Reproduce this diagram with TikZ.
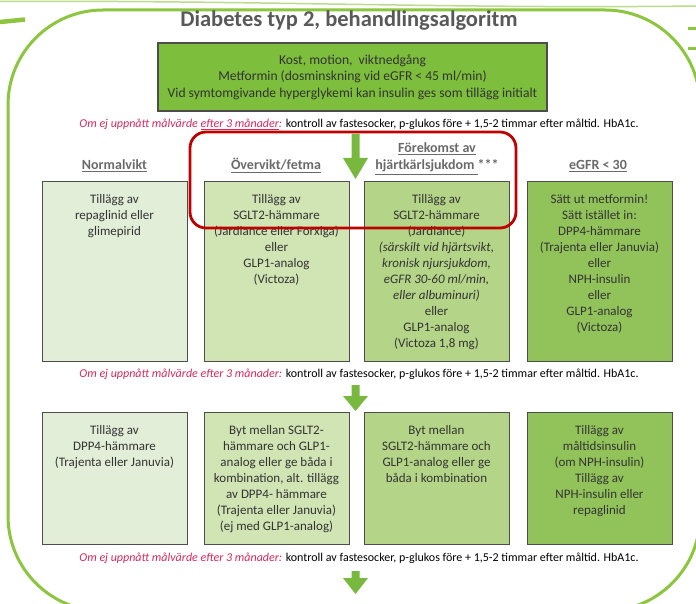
\documentclass[tikz,border=0pt]{standalone}
\usepackage{fontspec}
\setmainfont{Carlito}
\definecolor{frameg}{HTML}{8CC63F}
\definecolor{topg}{HTML}{7DBE3C}
\definecolor{cA}{HTML}{E2EED8}
\definecolor{cB}{HTML}{D1E4B4}
\definecolor{cC}{HTML}{B4D588}
\definecolor{cD}{HTML}{92C35A}
\definecolor{arrowg}{HTML}{78B83E}
\definecolor{redc}{HTML}{C00000}
\definecolor{pinkred}{HTML}{D42A5B}
\definecolor{hdrc}{HTML}{6A6A6A}
\definecolor{titlec}{HTML}{595959}
\definecolor{txt}{HTML}{333333}
\definecolor{bord}{HTML}{4D4D4D}
\begin{document}
\begin{tikzpicture}[x=1pt,y=-1pt,
  boxtext/.style={align=center, font=\fontsize{13}{16}\selectfont, text=txt, inner sep=0pt, anchor=north},
  cellbox/.style={draw=bord, line width=1.3pt, minimum width=145pt, inner sep=0pt, anchor=north west},
  hdr/.style={font=\fontsize{14}{17}\selectfont\bfseries, text=hdrc, inner sep=0pt, anchor=base},
  note/.style={font=\fontsize{12}{14}\selectfont, text=black, inner sep=0pt, anchor=base},
  bigarrow/.style={fill=arrowg, draw=none}]
\path[use as bounding box] (0,0) rectangle (696,604);
\clip (0,0) rectangle (696,604);
\fill[white] (0,0) rectangle (696,604);
% decorations
\draw[frameg!60, line width=1.5pt] (0,1.5) .. controls (250,0) and (450,9) .. (696,6);
\draw[frameg, line width=4.5pt] (0,22) -- (25,19.5);
\draw[frameg, line width=3pt] (688,28.5) -- (696,28.5);
\draw[frameg, line width=3pt] (688,49) -- (696,49);
\draw[frameg, line width=3pt, rounded corners=95pt] (8,10) rectangle (700,611);
% title
\node[font=\fontsize{22.5}{26}\selectfont\bfseries, text=titlec, inner sep=0pt, anchor=base] (title) at (349,27) {Diabetes typ 2, behandlingsalgoritm};
% top box
\node[draw=bord, line width=1.3pt, fill=topg, minimum width=389pt, minimum height=68pt, align=center, font=\fontsize{13.6}{16.5}\selectfont, text=txt, inner sep=0pt] (top) at (352.5,77) {Kost, motion,\ \ viktnedgång\\Metformin (dosminskning vid eGFR < 45 ml/min)\\Vid symtomgivande hyperglykemi kan insulin ges som tillägg initialt};
% notes
\node[note] (n1) at (359,128) {\textcolor{pinkred}{\itshape Om ej uppnått målvärde \underline{efter 3 månader}:} \underline{kontroll av fastesocker, p-glukos före + 1,5-2} timmar efter måltid. HbA1c.};
\node[note] (n2) at (359,377) {\textcolor{pinkred}{\itshape Om ej uppnått målvärde efter 3 månader:} kontroll av fastesocker, p-glukos före + 1,5-2 timmar efter måltid. HbA1c.};
\node[note] (n3) at (359,561) {\textcolor{pinkred}{\itshape Om ej uppnått målvärde efter 3 månader:} kontroll av fastesocker, p-glukos före + 1,5-2 timmar efter måltid. HbA1c.};
% arrows
\fill[bigarrow] (351.5,134) -- (359.5,134) -- (359.5,158) -- (368,158) -- (355.5,179) -- (343,158) -- (351.5,158) -- cycle;
\fill[bigarrow] (351.5,385) -- (359.5,385) -- (359.5,396) -- (368,396) -- (355.5,411) -- (343,396) -- (351.5,396) -- cycle;
\fill[bigarrow] (351.5,571) -- (359.5,571) -- (359.5,578) -- (368,578) -- (355.5,594) -- (343,578) -- (351.5,578) -- cycle;
% headers
\node[hdr] (h1) at (114.5,170) {\underline{Normalvikt}};
\node[hdr] (h2) at (276,170) {\underline{Övervikt/fetma}};
\node[hdr] (h3a) at (437,153) {\underline{Förekomst av}};
\node[hdr] (h3b) at (437,170) {\underline{hjärtkärlsjukdom\ }***};
\node[hdr] (h4) at (598,170) {\underline{eGFR < 30}};
% row 1
\node[cellbox, fill=cA, minimum height=180pt] (b11) at (42,181) {};
\node[cellbox, fill=cB, minimum height=180pt] (b12) at (204,181) {};
\node[cellbox, fill=cC, minimum height=180pt] (b13) at (364,181) {};
\node[cellbox, fill=cD, minimum height=180pt] (b14) at (527,181) {};
\node[boxtext] (t11) at (114.5,194) {Tillägg av\\repaglinid eller\\glimepirid};
\node[boxtext] (t12) at (276.5,194) {Tillägg av\\SGLT2-hämmare\\(Jardiance eller Forxiga)\\eller\\GLP1-analog\\(Victoza)};
\node[boxtext] (t13) at (436.5,194) {Tillägg av\\SGLT2-hämmare\\(Jardiance)\\\textit{(särskilt vid hjärtsvikt,}\\\textit{kronisk njursjukdom,}\\\textit{eGFR 30-60 ml/min,}\\\textit{eller albuminuri)}\\eller\\GLP1-analog\\(Victoza 1,8 mg)};
\node[boxtext] (t14) at (599.5,194) {Sätt ut metformin!\\Sätt istället in:\\DPP4-hämmare\\(Trajenta eller Januvia)\\eller\\NPH-insulin\\eller\\GLP1-analog\\(Victoza)};
% row 2
\node[cellbox, fill=cA, minimum height=132pt] (b21) at (42,412) {};
\node[cellbox, fill=cB, minimum height=132pt] (b22) at (204,412) {};
\node[cellbox, fill=cC, minimum height=132pt] (b23) at (364,412) {};
\node[cellbox, fill=cD, minimum height=132pt] (b24) at (527,412) {};
\node[boxtext] (t21) at (114.5,425) {Tillägg av\\DPP4-hämmare\\(Trajenta eller Januvia)};
\node[boxtext] (t22) at (276.5,425) {Byt mellan SGLT2-\\hämmare och GLP1-\\analog eller ge båda i\\kombination, alt. tillägg\\av DPP4- hämmare\\(Trajenta eller Januvia)\\(ej med GLP1-analog)};
\node[boxtext] (t23) at (436.5,425) {Byt mellan\\SGLT2-hämmare och\\GLP1-analog eller ge\\båda i kombination};
\node[boxtext] (t24) at (599.5,425) {Tillägg av\\måltidsinsulin\\(om NPH-insulin)\\Tillägg av\\NPH-insulin eller\\repaglinid};
% highlight
\draw[redc, line width=2.8pt, rounded corners=16pt] (190,132) rectangle (516,228);
\end{tikzpicture}
\end{document}
